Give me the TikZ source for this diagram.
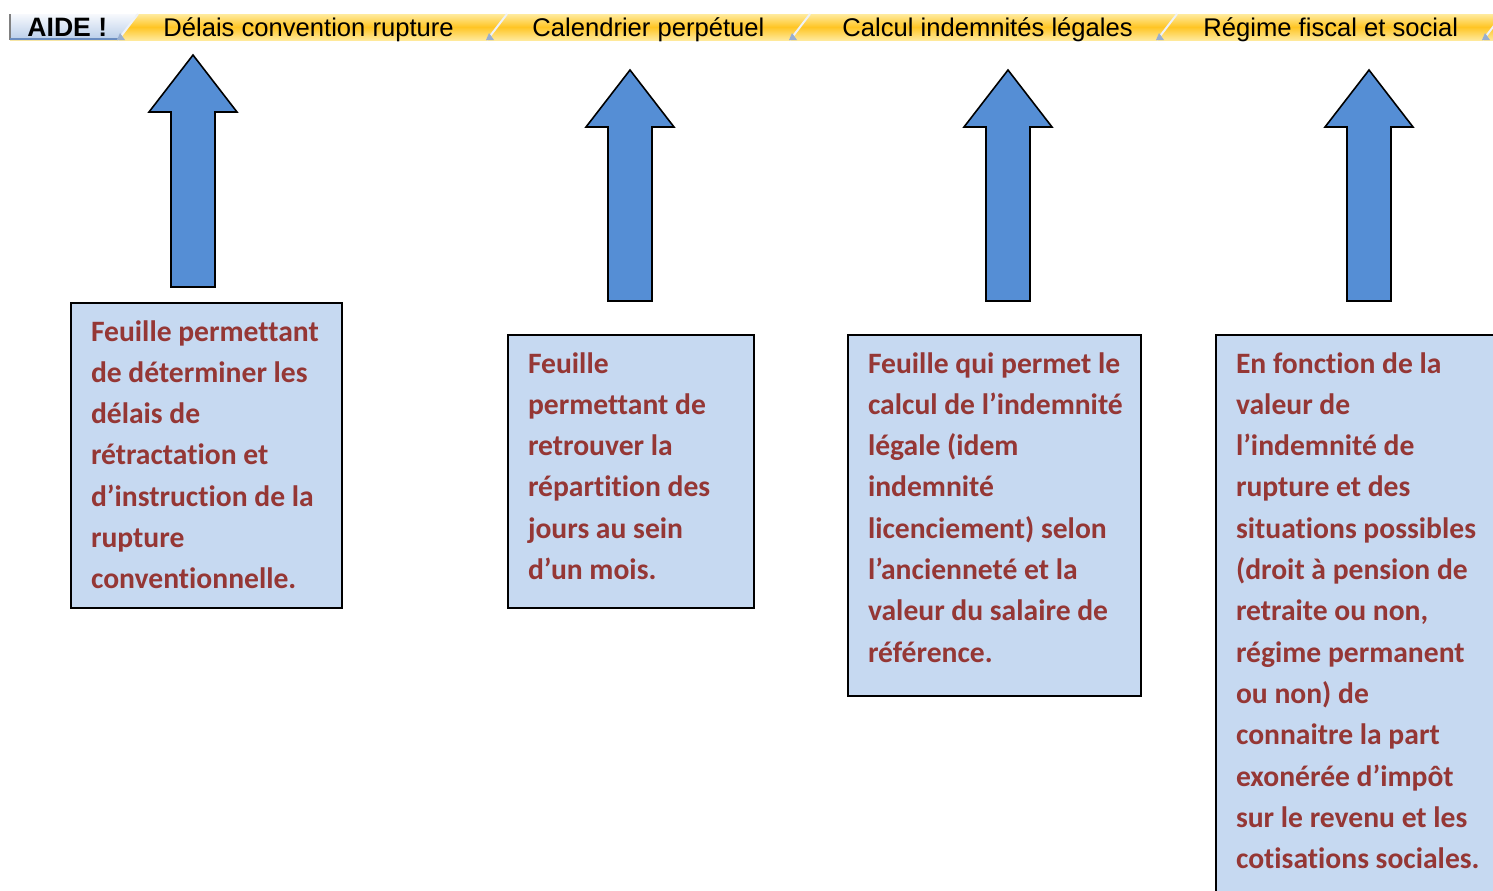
\documentclass[tikz,border=0pt]{standalone}
\usepackage{fontspec}
\setmainfont{Carlito}[Ligatures=NoCommon]
\newfontfamily\tabfont{Liberation Sans}
\usepackage{tikz}

\definecolor{boxfill}{HTML}{C6D9F1}
\definecolor{boxtext}{HTML}{953735}
\definecolor{arrowblue}{HTML}{558ED5}
\definecolor{tabtop}{HTML}{FFEB9E}
\definecolor{tabmid}{HTML}{FFC524}
\definecolor{tabbot}{HTML}{FFE99A}
\definecolor{aidetop}{HTML}{F7F9FD}
\definecolor{aidebot}{HTML}{B8CDE9}
\definecolor{aideline}{HTML}{6A8CC0}
\definecolor{sepline}{HTML}{EEF2F8}
\definecolor{sepmark}{HTML}{98AED0}

% text of a note: fixed size, 10pt left margin, first baseline 19pt under the top
\newcommand{\notetext}[3]{\begin{minipage}[t][#1][t]{#2}\fontsize{14.8pt}{20.65pt}\selectfont\bfseries\raggedright\leftskip=10pt\rule{0pt}{19pt}#3\end{minipage}}

\begin{document}
\begin{tikzpicture}[x=0.5pt, y=-0.5pt]
		\tikzstyle{note} = [rectangle, draw=black, line width=1pt, fill=boxfill, text=boxtext, inner sep=0pt, anchor=north west]
		
		\tikzstyle{tablabel} = [inner sep=0pt, anchor=base west, text=black, font=\tabfont\fontsize{12.8pt}{15pt}\selectfont]
		
		\tikzstyle{bigarrow} = [draw=black, line width=0.8pt, fill=arrowblue, to path={([xshift=-11pt]\tikztostart) -- ([xshift=-11pt, yshift=-28.5pt]\tikztotarget) -- ([xshift=-22pt, yshift=-28.5pt]\tikztotarget) -- (\tikztotarget) -- ([xshift=22pt, yshift=-28.5pt]\tikztotarget) -- ([xshift=11pt, yshift=-28.5pt]\tikztotarget) -- ([xshift=11pt]\tikztostart) -- cycle}]
		
		\useasboundingbox (0,0) rectangle (1493,890);
		\clip (0,0) rectangle (1493,890);
		
		% Sheet tab bar
		\shade[top color=tabtop, bottom color=tabbot, middle color=tabmid] (10,14) rectangle (1493,40);
		\shade[top color=aidetop, bottom color=aidebot] (10,14) -- (137,14) -- (118,40) -- (10,40) -- cycle;
		\draw[gray, line width=0.6pt] (10,14) -- (10,40);
		\draw[aideline, line width=0.8pt] (10,39) -- (118,39);
		\foreach \s in {118, 487, 790, 1157, 1483}
		{
			\draw[sepline, line width=1pt] (\s,40) -- (\s+20,14);
			\fill[sepmark] (\s-1,40) -- (\s+7,40) -- (\s+2,33) -- cycle;
		}
		
		% Tab names
		\node (tabaide) [tablabel, font=\tabfont\bfseries\fontsize{13.3pt}{15pt}\selectfont] at (27,36) {AIDE !};
		\node (tabdelais) [tablabel] at (163,36) {Délais convention rupture};
		\node (tabcalendrier) [tablabel] at (532,36) {Calendrier perpétuel};
		\node (tabcalcul) [tablabel] at (842,36) {Calcul indemnités légales};
		\node (tabregime) [tablabel] at (1203,36) {Régime fiscal et social};
		
		% Notes
		\node (delais) [note] at (70,302) {\notetext{152.5pt}{135.5pt}{Feuille permettant\\ de déterminer les\\ délais de\\ rétractation et\\ d’instruction de la\\ rupture\\ conventionnelle.}};
		\node (calendrier) [note] at (507,334) {\notetext{136.5pt}{123pt}{Feuille\\ permettant de\\ retrouver la\\ répartition des\\ jours au sein\\ d’un mois.}};
		\node (calcul) [note] at (847,334) {\notetext{180.5pt}{146.5pt}{Feuille qui permet le\\ calcul de l’indemnité\\ légale (idem\\ indemnité\\ licenciement) selon\\ l’ancienneté et la\\ valeur du salaire de\\ référence.}};
		\node (regime) [note] at (1215,334) {\notetext{290pt}{160pt}{En fonction de la\\ valeur de\\ l’indemnité de\\ rupture et des\\ situations possibles\\ (droit à pension de\\ retraite ou non,\\ régime permanent\\ ou non) de\\ connaitre la part\\ exonérée d’impôt\\ sur le revenu et les\\ cotisations sociales.}};
		
		% Arrows
		\coordinate (from1) at (193,287);
		\coordinate (to1) at (193,55);
		\coordinate (from2) at (630,301);
		\coordinate (to2) at (630,70);
		\coordinate (from3) at (1008,301);
		\coordinate (to3) at (1008,70);
		\coordinate (from4) at (1369,301);
		\coordinate (to4) at (1369,70);
		\draw [bigarrow] (from1) to (to1);
		\draw [bigarrow] (from2) to (to2);
		\draw [bigarrow] (from3) to (to3);
		\draw [bigarrow] (from4) to (to4);
\end{tikzpicture}
\end{document}
